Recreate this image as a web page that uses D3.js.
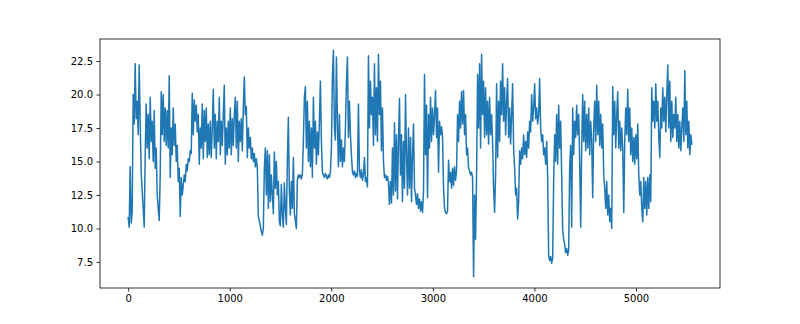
<!DOCTYPE html>
<html>
<head>
<meta charset="utf-8">
<script src="https://cdn.jsdelivr.net/npm/d3@7"></script>
<style>
    body { margin: 0; background: #fff; }
    .axis text { font-family: "DejaVu Sans", sans-serif; font-size: 10px; fill: #000; }
    .axis line { stroke: #000; stroke-width: 0.8; }
    .axis path { display: none; }
</style>
</head>
<body>
<div id="chart"></div>
<script>
// one value per ~10 samples
var values = [
    10.8, 10.1, 14.6, 10.4, 11.2, 20.0, 17.8, 22.3, 18.2, 19.5,
    17.0, 22.2, 18.0, 14.2, 12.8, 11.5, 10.1, 15.5, 19.3, 16.0,
    18.5, 15.2, 19.8, 16.5, 18.0, 15.0, 18.8, 14.5, 16.0, 12.5,
    11.5, 10.6, 14.0, 20.2, 17.0, 20.0, 16.5, 19.0, 16.2, 18.8,
    16.0, 21.4, 13.8, 17.5, 15.5, 19.0, 16.2, 17.8, 15.0, 16.2,
    13.5, 14.5, 10.9, 13.8, 12.5, 13.2, 14.0, 13.5, 14.8, 14.3,
    15.2, 15.0, 15.8, 15.6, 20.1, 17.0, 19.6, 18.0, 19.2, 17.2,
    18.5, 14.8, 17.5, 16.0, 19.3, 15.2, 18.8, 16.5, 19.0, 15.3,
    17.8, 15.5, 18.0, 15.3, 17.5, 20.4, 16.0, 18.5, 15.2, 18.0,
    16.5, 19.8, 15.5, 18.0, 16.2, 18.5, 20.7, 14.8, 17.5, 15.5,
    18.0, 16.0, 19.0, 15.5, 18.2, 16.2, 18.5, 19.8, 16.0, 19.5,
    15.0, 18.0, 16.5, 18.2, 15.8, 19.0, 21.3, 18.5, 19.1, 15.3,
    17.5, 16.0, 16.8, 15.2, 16.0, 15.0, 15.6, 14.6, 15.2, 14.5,
    10.9, 10.6, 10.2, 9.8, 9.5, 10.0, 14.5, 16.0, 12.5, 15.8,
    11.5, 15.5, 12.0, 14.0, 12.5, 11.1, 15.7, 13.0, 15.0, 12.5,
    13.5, 10.5, 10.2, 13.3, 11.0, 10.1, 13.4, 11.5, 10.3, 15.0,
    18.3, 12.8, 11.0, 13.5, 11.5, 15.3, 11.1, 10.6, 10.0, 13.6,
    14.0, 13.8, 14.0, 13.7, 14.1, 16.5, 19.8, 20.6, 16.0, 19.5,
    15.0, 18.0, 14.6, 17.5, 13.8, 19.8, 16.0, 18.0, 14.8, 17.2,
    15.5, 18.0, 21.0, 16.5, 14.2, 14.0, 13.8, 14.1, 13.9, 13.7,
    14.0, 13.8, 14.2, 16.0, 21.3, 23.3, 17.5, 16.6, 22.8, 18.0,
    14.6, 18.5, 15.0, 16.6, 14.6, 16.0, 15.0, 17.5, 20.8, 22.8,
    16.8, 19.5, 17.0, 15.5, 14.2, 14.0, 14.3, 13.8, 14.1, 13.9,
    19.3, 14.3, 13.8, 14.4, 13.6, 14.0, 15.3, 13.5, 13.8, 13.1,
    22.9, 17.5, 21.0, 18.5, 19.8, 16.2, 22.3, 17.0, 20.5, 16.5,
    23.0, 18.5, 21.0, 15.8, 19.0, 15.0, 13.8, 14.0, 13.6, 13.9,
    13.4, 11.8, 13.5, 11.9, 16.0, 12.5, 17.9, 12.8, 17.0, 12.2,
    16.5, 19.7, 14.0, 17.0, 12.0, 16.5, 13.0, 20.0, 15.5, 12.5,
    17.5, 13.0, 16.8, 12.0, 15.5, 17.8, 13.0, 12.5, 11.8, 12.6,
    11.5, 12.2, 11.3, 12.0, 11.2, 12.8, 21.5, 15.5, 19.2, 12.3,
    18.5, 16.0, 19.8, 16.5, 19.0, 17.0, 18.5, 20.3, 16.8, 19.0,
    14.2, 18.0, 17.0, 17.6, 16.8, 13.0, 11.5, 11.2, 11.1, 11.3,
    15.1, 13.5, 14.2, 13.0, 14.5, 13.2, 14.6, 13.6, 14.3, 18.5,
    16.5, 19.5, 17.5, 20.2, 17.8, 20.3, 17.0, 18.5, 15.5, 16.0,
    14.5, 14.3, 14.0, 14.2, 13.8, 6.4, 12.5, 9.2, 14.0, 21.5,
    17.5, 22.3, 16.0, 23.0, 18.5, 21.0, 16.8, 20.5, 17.0, 19.5,
    16.3, 19.8, 17.0, 18.5, 16.5, 13.0, 11.2, 14.0, 20.8, 15.3,
    19.5, 16.5, 21.0, 18.5, 22.3, 18.0, 20.5, 17.0, 19.5, 21.2,
    16.8, 19.0, 16.3, 18.5, 20.8, 16.0, 14.5, 12.5, 13.0, 10.7,
    12.0, 15.8, 14.8, 16.0, 15.2, 17.0, 15.5, 16.5, 15.3, 17.2,
    16.0, 18.0, 17.2, 20.0, 18.0, 19.0, 20.8, 18.2, 19.0, 17.8,
    18.5, 21.2, 17.5, 16.5, 17.0, 15.5, 16.0, 14.8, 16.5, 13.8,
    8.0, 7.6, 7.9, 7.4, 7.8, 13.6, 17.0, 15.0, 18.5, 14.8,
    19.2, 16.0, 18.0, 14.0, 9.9, 9.2, 8.8, 8.2, 8.5, 8.0,
    8.4, 14.6, 16.2, 10.1, 19.0, 15.5, 18.0, 16.8, 19.2, 17.0,
    18.5, 15.0, 10.1, 16.0, 20.0, 16.5, 19.5, 15.8, 18.5, 16.0,
    19.0, 15.5, 18.0, 16.5, 12.3, 17.5, 19.5, 16.5, 20.7, 17.0,
    19.5, 16.2, 18.5, 16.0, 17.8, 14.0, 13.0, 11.5, 13.5, 11.0,
    12.5, 10.5, 11.5, 10.0, 20.6, 17.0, 19.5, 16.0, 18.5, 20.2,
    16.0, 18.0, 15.8, 17.5, 16.0, 11.2, 16.5, 19.0, 17.0, 20.4,
    16.5, 19.0, 15.5, 17.5, 15.0, 16.8, 14.8, 17.0, 15.2, 17.8,
    14.0, 12.5, 13.5, 11.5, 10.5, 13.8, 11.5, 13.5, 11.0, 13.8,
    11.5, 14.0, 12.0, 20.5, 18.0, 19.5, 17.5, 20.8, 18.0, 19.5,
    16.8, 15.3, 19.0, 17.5, 20.5, 18.0, 19.8, 17.2, 20.0, 22.2,
    17.5, 21.0, 16.5, 19.5, 16.8, 18.5, 17.5, 19.8, 16.5, 18.5,
    16.0, 18.0, 15.8, 17.5, 19.0, 16.5, 21.8, 17.0, 19.5, 16.0,
    18.0, 15.5, 17.0, 16.3
];
var lastIndex = 5550;   // x of the last sample
var xTicks = [0, 1000, 2000, 3000, 4000, 5000];
var yTicks = [7.5, 10.0, 12.5, 15.0, 17.5, 20.0, 22.5];

var W = 800, H = 324;
var margin = { top: 39, right: 80, bottom: 36, left: 100 };
var width = W - margin.left - margin.right;
var height = H - margin.top - margin.bottom;

var step = lastIndex / (values.length - 1);
var data = values.map(function (v, i) { return { x: i * step, y: v }; });

var svg = d3.select("#chart").append("svg")
    .attr("width", W).attr("height", H)
  .append("g")
    .attr("transform", "translate(" + margin.left + "," + margin.top + ")");

// matplotlib style 5% margins
var xr = [0, lastIndex], xpad = (xr[1] - xr[0]) * 0.05;
var yr = d3.extent(values), ypad = (yr[1] - yr[0]) * 0.05;

var x = d3.scaleLinear().domain([xr[0] - xpad, xr[1] + xpad]).range([0, width]);
var y = d3.scaleLinear().domain([yr[0] - ypad, yr[1] + ypad]).range([height, 0]);

var line = d3.line()
    .x(function (d) { return x(d.x); })
    .y(function (d) { return y(d.y); });

svg.append("path")
    .datum(data)
    .attr("fill", "none")
    .attr("stroke", "#1f77b4")
    .attr("stroke-width", 1.5)
    .attr("stroke-linejoin", "round")
    .attr("stroke-linecap", "square")
    .attr("d", line);

// assi
svg.append("g")
    .attr("class", "axis")
    .attr("transform", "translate(0," + height + ")")
    .call(d3.axisBottom(x).tickValues(xTicks).tickSize(3.5).tickPadding(3.5).tickFormat(d3.format("d")));

svg.append("g")
    .attr("class", "axis")
    .call(d3.axisLeft(y).tickValues(yTicks).tickSize(3.5).tickPadding(3.5).tickFormat(d3.format(".1f")));

// cornice
svg.append("rect")
    .attr("x", 0).attr("y", 0)
    .attr("width", width).attr("height", height)
    .attr("fill", "none")
    .attr("stroke", "#000")
    .attr("stroke-width", 0.8);
</script>
</body>
</html>
